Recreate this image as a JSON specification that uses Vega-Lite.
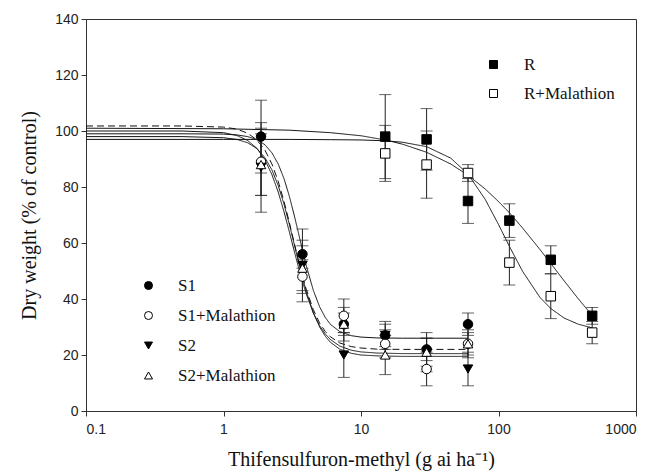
{
  "$schema": "https://vega.github.io/schema/vega-lite/v6.json",
  "width": 550,
  "height": 392,
  "autosize": {"type": "none"},
  "padding": {"left": 86, "top": 19, "right": 18, "bottom": 64},
  "background": "white",
  "config": {
    "view": {"stroke": "#333", "strokeWidth": 1},
    "axis": {
      "domainColor": "#333", "tickColor": "#333", "tickSize": 5, "grid": false,
      "labelFont": "Liberation Sans", "labelFontSize": 14, "labelColor": "#222",
      "titleFont": "Liberation Serif", "titleFontSize": 20, "titleFontWeight": "normal", "titleColor": "#111"
    },
    "legend": {
      "labelFont": "Liberation Serif", "labelFontSize": 17, "labelColor": "#111",
      "symbolStrokeWidth": 1, "symbolSize": 64, "padding": 0
    }
  },
  "datasets": {
    "points": [
      {"group": "S", "series": "S1", "dose": 1.875, "value": 98, "err": 13},
      {"group": "S", "series": "S1", "dose": 3.75, "value": 56, "err": 5},
      {"group": "S", "series": "S1", "dose": 7.5, "value": 31, "err": 4},
      {"group": "S", "series": "S1", "dose": 15, "value": 27, "err": 4},
      {"group": "S", "series": "S1", "dose": 30, "value": 22, "err": 4},
      {"group": "S", "series": "S1", "dose": 60, "value": 31, "err": 4},
      {"group": "S", "series": "S1+Malathion", "dose": 1.875, "value": 89, "err": 12},
      {"group": "S", "series": "S1+Malathion", "dose": 3.75, "value": 48, "err": 6},
      {"group": "S", "series": "S1+Malathion", "dose": 7.5, "value": 34, "err": 6},
      {"group": "S", "series": "S1+Malathion", "dose": 15, "value": 24, "err": 5},
      {"group": "S", "series": "S1+Malathion", "dose": 30, "value": 15, "err": 6},
      {"group": "S", "series": "S1+Malathion", "dose": 60, "value": 24, "err": 5},
      {"group": "S", "series": "S2", "dose": 1.875, "value": 87, "err": 16},
      {"group": "S", "series": "S2", "dose": 3.75, "value": 52, "err": 13},
      {"group": "S", "series": "S2", "dose": 7.5, "value": 20, "err": 8},
      {"group": "S", "series": "S2", "dose": 15, "value": 27, "err": 5},
      {"group": "S", "series": "S2", "dose": 30, "value": 21, "err": 7},
      {"group": "S", "series": "S2", "dose": 60, "value": 15, "err": 6},
      {"group": "S", "series": "S2+Malathion", "dose": 1.875, "value": 88, "err": 11},
      {"group": "S", "series": "S2+Malathion", "dose": 3.75, "value": 51, "err": 8},
      {"group": "S", "series": "S2+Malathion", "dose": 7.5, "value": 31, "err": 6},
      {"group": "S", "series": "S2+Malathion", "dose": 15, "value": 20, "err": 7},
      {"group": "S", "series": "S2+Malathion", "dose": 30, "value": 21, "err": 5},
      {"group": "S", "series": "S2+Malathion", "dose": 60, "value": 24, "err": 4},
      {"group": "R", "series": "R", "dose": 15, "value": 98, "err": 15},
      {"group": "R", "series": "R", "dose": 30, "value": 97, "err": 11},
      {"group": "R", "series": "R", "dose": 60, "value": 75, "err": 8},
      {"group": "R", "series": "R", "dose": 120, "value": 68, "err": 6},
      {"group": "R", "series": "R", "dose": 240, "value": 54, "err": 5},
      {"group": "R", "series": "R", "dose": 480, "value": 34, "err": 3},
      {"group": "R", "series": "R+Malathion", "dose": 15, "value": 92, "err": 10},
      {"group": "R", "series": "R+Malathion", "dose": 30, "value": 88, "err": 12},
      {"group": "R", "series": "R+Malathion", "dose": 60, "value": 85, "err": 3},
      {"group": "R", "series": "R+Malathion", "dose": 120, "value": 53, "err": 8},
      {"group": "R", "series": "R+Malathion", "dose": 240, "value": 41, "err": 8},
      {"group": "R", "series": "R+Malathion", "dose": 480, "value": 28, "err": 4}
    ],
    "curves": [
      {"curve": "S1", "dose": 0.1, "value": 99}, {"curve": "S1", "dose": 0.5, "value": 99}, {"curve": "S1", "dose": 1, "value": 98.9}, {"curve": "S1", "dose": 1.25, "value": 98.6}, {"curve": "S1", "dose": 1.5, "value": 98}, {"curve": "S1", "dose": 1.75, "value": 96.9}, {"curve": "S1", "dose": 2, "value": 95.1}, {"curve": "S1", "dose": 2.25, "value": 92.2}, {"curve": "S1", "dose": 2.5, "value": 88.2}, {"curve": "S1", "dose": 2.75, "value": 83.1}, {"curve": "S1", "dose": 3, "value": 77}, {"curve": "S1", "dose": 3.25, "value": 70.4}, {"curve": "S1", "dose": 3.5, "value": 63.8}, {"curve": "S1", "dose": 3.75, "value": 57.5}, {"curve": "S1", "dose": 4, "value": 51.9}, {"curve": "S1", "dose": 4.5, "value": 43.1}, {"curve": "S1", "dose": 5, "value": 37.2}, {"curve": "S1", "dose": 5.5, "value": 33.4}, {"curve": "S1", "dose": 6, "value": 30.9}, {"curve": "S1", "dose": 7, "value": 28.4}, {"curve": "S1", "dose": 8.5, "value": 26.9}, {"curve": "S1", "dose": 10, "value": 26.4}, {"curve": "S1", "dose": 13, "value": 26.1}, {"curve": "S1", "dose": 20, "value": 26}, {"curve": "S1", "dose": 35, "value": 26}, {"curve": "S1", "dose": 60, "value": 26},
      {"curve": "S1+Malathion", "dose": 0.1, "value": 101.8}, {"curve": "S1+Malathion", "dose": 0.5, "value": 101.8}, {"curve": "S1+Malathion", "dose": 1, "value": 101.4}, {"curve": "S1+Malathion", "dose": 1.25, "value": 100.7}, {"curve": "S1+Malathion", "dose": 1.5, "value": 99.2}, {"curve": "S1+Malathion", "dose": 1.75, "value": 96.8}, {"curve": "S1+Malathion", "dose": 2, "value": 93.2}, {"curve": "S1+Malathion", "dose": 2.25, "value": 88.2}, {"curve": "S1+Malathion", "dose": 2.5, "value": 82}, {"curve": "S1+Malathion", "dose": 2.75, "value": 75}, {"curve": "S1+Malathion", "dose": 3, "value": 67.7}, {"curve": "S1+Malathion", "dose": 3.25, "value": 60.5}, {"curve": "S1+Malathion", "dose": 3.5, "value": 54}, {"curve": "S1+Malathion", "dose": 3.75, "value": 48.2}, {"curve": "S1+Malathion", "dose": 4, "value": 43.4}, {"curve": "S1+Malathion", "dose": 4.5, "value": 36.2}, {"curve": "S1+Malathion", "dose": 5, "value": 31.4}, {"curve": "S1+Malathion", "dose": 5.5, "value": 28.4}, {"curve": "S1+Malathion", "dose": 6, "value": 26.5}, {"curve": "S1+Malathion", "dose": 7, "value": 24.3}, {"curve": "S1+Malathion", "dose": 8.5, "value": 23}, {"curve": "S1+Malathion", "dose": 10, "value": 22.5}, {"curve": "S1+Malathion", "dose": 13, "value": 22.1}, {"curve": "S1+Malathion", "dose": 20, "value": 22}, {"curve": "S1+Malathion", "dose": 35, "value": 22}, {"curve": "S1+Malathion", "dose": 60, "value": 22},
      {"curve": "S2", "dose": 0.1, "value": 98}, {"curve": "S2", "dose": 0.5, "value": 98}, {"curve": "S2", "dose": 1, "value": 97.6}, {"curve": "S2", "dose": 1.25, "value": 97}, {"curve": "S2", "dose": 1.5, "value": 95.8}, {"curve": "S2", "dose": 1.75, "value": 93.7}, {"curve": "S2", "dose": 2, "value": 90.5}, {"curve": "S2", "dose": 2.25, "value": 86.1}, {"curve": "S2", "dose": 2.5, "value": 80.5}, {"curve": "S2", "dose": 2.75, "value": 74}, {"curve": "S2", "dose": 3, "value": 67}, {"curve": "S2", "dose": 3.25, "value": 60.1}, {"curve": "S2", "dose": 3.5, "value": 53.6}, {"curve": "S2", "dose": 3.75, "value": 47.8}, {"curve": "S2", "dose": 4, "value": 42.7}, {"curve": "S2", "dose": 4.5, "value": 35.1}, {"curve": "S2", "dose": 5, "value": 30}, {"curve": "S2", "dose": 5.5, "value": 26.7}, {"curve": "S2", "dose": 6, "value": 24.5}, {"curve": "S2", "dose": 7, "value": 22.1}, {"curve": "S2", "dose": 8.5, "value": 20.6}, {"curve": "S2", "dose": 10, "value": 20}, {"curve": "S2", "dose": 13, "value": 19.7}, {"curve": "S2", "dose": 20, "value": 19.5}, {"curve": "S2", "dose": 35, "value": 19.5}, {"curve": "S2", "dose": 60, "value": 19.5},
      {"curve": "S2+Malathion", "dose": 0.1, "value": 100}, {"curve": "S2+Malathion", "dose": 0.5, "value": 100}, {"curve": "S2+Malathion", "dose": 1, "value": 99.4}, {"curve": "S2+Malathion", "dose": 1.25, "value": 98.4}, {"curve": "S2+Malathion", "dose": 1.5, "value": 96.6}, {"curve": "S2+Malathion", "dose": 1.75, "value": 93.8}, {"curve": "S2+Malathion", "dose": 2, "value": 89.7}, {"curve": "S2+Malathion", "dose": 2.25, "value": 84.4}, {"curve": "S2+Malathion", "dose": 2.5, "value": 78.2}, {"curve": "S2+Malathion", "dose": 2.75, "value": 71.3}, {"curve": "S2+Malathion", "dose": 3, "value": 64.3}, {"curve": "S2+Malathion", "dose": 3.25, "value": 57.6}, {"curve": "S2+Malathion", "dose": 3.5, "value": 51.6}, {"curve": "S2+Malathion", "dose": 3.75, "value": 46.3}, {"curve": "S2+Malathion", "dose": 4, "value": 41.8}, {"curve": "S2+Malathion", "dose": 4.5, "value": 35}, {"curve": "S2+Malathion", "dose": 5, "value": 30.5}, {"curve": "S2+Malathion", "dose": 5.5, "value": 27.5}, {"curve": "S2+Malathion", "dose": 6, "value": 25.5}, {"curve": "S2+Malathion", "dose": 7, "value": 23.2}, {"curve": "S2+Malathion", "dose": 8.5, "value": 21.7}, {"curve": "S2+Malathion", "dose": 10, "value": 21.1}, {"curve": "S2+Malathion", "dose": 13, "value": 20.7}, {"curve": "S2+Malathion", "dose": 20, "value": 20.5}, {"curve": "S2+Malathion", "dose": 35, "value": 20.5}, {"curve": "S2+Malathion", "dose": 60, "value": 20.5},
      {"curve": "R", "dose": 0.1, "value": 101}, {"curve": "R", "dose": 1, "value": 100.8}, {"curve": "R", "dose": 3, "value": 100.3}, {"curve": "R", "dose": 6, "value": 99.4}, {"curve": "R", "dose": 10, "value": 98.3}, {"curve": "R", "dose": 15, "value": 96.8}, {"curve": "R", "dose": 20, "value": 95.3}, {"curve": "R", "dose": 30, "value": 92.4}, {"curve": "R", "dose": 45, "value": 88.2}, {"curve": "R", "dose": 60, "value": 84.2}, {"curve": "R", "dose": 80, "value": 79.3}, {"curve": "R", "dose": 100, "value": 74.8}, {"curve": "R", "dose": 120, "value": 70.8}, {"curve": "R", "dose": 150, "value": 65.3}, {"curve": "R", "dose": 200, "value": 57.7}, {"curve": "R", "dose": 240, "value": 52.7}, {"curve": "R", "dose": 300, "value": 46.5}, {"curve": "R", "dose": 380, "value": 40.1}, {"curve": "R", "dose": 480, "value": 34.1},
      {"curve": "R+Malathion", "dose": 0.1, "value": 97}, {"curve": "R+Malathion", "dose": 1, "value": 97}, {"curve": "R+Malathion", "dose": 3, "value": 97}, {"curve": "R+Malathion", "dose": 6, "value": 96.9}, {"curve": "R+Malathion", "dose": 10, "value": 96.8}, {"curve": "R+Malathion", "dose": 15, "value": 96.5}, {"curve": "R+Malathion", "dose": 20, "value": 96}, {"curve": "R+Malathion", "dose": 30, "value": 94.4}, {"curve": "R+Malathion", "dose": 45, "value": 90.3}, {"curve": "R+Malathion", "dose": 60, "value": 84.6}, {"curve": "R+Malathion", "dose": 80, "value": 75.6}, {"curve": "R+Malathion", "dose": 100, "value": 66.6}, {"curve": "R+Malathion", "dose": 120, "value": 58.8}, {"curve": "R+Malathion", "dose": 150, "value": 49.8}, {"curve": "R+Malathion", "dose": 200, "value": 40.6}, {"curve": "R+Malathion", "dose": 240, "value": 36.6}, {"curve": "R+Malathion", "dose": 300, "value": 33.2}, {"curve": "R+Malathion", "dose": 380, "value": 31}, {"curve": "R+Malathion", "dose": 480, "value": 29.7}
    ]
  },
  "layer": [
    {
      "data": {"name": "curves"},
      "mark": {"type": "line", "color": "#111", "strokeWidth": 1},
      "encoding": {
        "x": {"field": "dose", "type": "quantitative", "title": "Thifensulfuron-methyl (g ai ha⁻¹)", "scale": {"type": "log", "domain": [0.1, 1000], "nice": false},
              "axis": {"values": [0.1, 1, 10, 100, 1000], "format": "~g", "labelPadding": 6, "titlePadding": 13}},
        "y": {"field": "value", "type": "quantitative", "title": "Dry weight (% of control)", "scale": {"domain": [0, 140], "nice": false},
              "axis": {"values": [0, 20, 40, 60, 80, 100, 120, 140], "labelPadding": 3, "titlePadding": 15}},
        "detail": {"field": "curve"},
        "strokeDash": {"field": "curve", "type": "nominal",
          "scale": {"domain": ["S1", "S1+Malathion", "S2", "S2+Malathion", "R", "R+Malathion"], "range": [[1, 0], [7, 4], [1, 0], [1, 0], [1, 0], [1, 0]]},
          "legend": null}
      }
    },
    {
      "data": {"name": "points"},
      "mark": {"type": "errorbar", "ticks": {"size": 12}, "color": "#222", "thickness": 1},
      "encoding": {
        "x": {"field": "dose", "type": "quantitative", "title": "Thifensulfuron-methyl (g ai ha⁻¹)"},
        "y": {"field": "value", "type": "quantitative", "title": "Dry weight (% of control)"},
        "yError": {"field": "err"},
        "detail": {"field": "series"}
      }
    },
    {
      "data": {"name": "points"},
      "transform": [{"filter": "datum.group == 'S'"}],
      "mark": {"type": "point", "filled": true, "strokeWidth": 1, "size": 90, "opacity": 1},
      "encoding": {
        "x": {"field": "dose", "type": "quantitative", "title": "Thifensulfuron-methyl (g ai ha⁻¹)"},
        "y": {"field": "value", "type": "quantitative", "title": "Dry weight (% of control)"},
        "shape": {"field": "series", "type": "nominal",
          "scale": {"domain": ["S1", "S1+Malathion", "S2", "S2+Malathion"], "range": ["circle", "circle", "triangle-down", "triangle-up"]},
          "legend": {"title": null, "orient": "none", "legendX": 54, "legendY": 258, "labelOffset": 21, "rowPadding": 12}},
        "fill": {"field": "series", "type": "nominal",
          "scale": {"domain": ["S1", "S1+Malathion", "S2", "S2+Malathion"], "range": ["black", "white", "black", "white"]},
          "legend": {"title": null, "orient": "none", "legendX": 54, "legendY": 258, "labelOffset": 21, "rowPadding": 12}},
        "stroke": {"field": "series", "type": "nominal",
          "scale": {"domain": ["S1", "S1+Malathion", "S2", "S2+Malathion"], "range": ["black", "black", "black", "black"]},
          "legend": {"title": null, "orient": "none", "legendX": 54, "legendY": 258, "labelOffset": 21, "rowPadding": 12}}
      }
    },
    {
      "data": {"name": "points"},
      "transform": [{"filter": "datum.group == 'R'"}],
      "mark": {"type": "point", "filled": true, "strokeWidth": 1, "size": 90, "opacity": 1},
      "encoding": {
        "x": {"field": "dose", "type": "quantitative", "title": "Thifensulfuron-methyl (g ai ha⁻¹)"},
        "y": {"field": "value", "type": "quantitative", "title": "Dry weight (% of control)"},
        "shape": {"field": "series", "type": "nominal",
          "scale": {"domain": ["R", "R+Malathion"], "range": ["square", "square"]},
          "legend": {"title": null, "orient": "none", "legendX": 399, "legendY": 37, "labelOffset": 22, "rowPadding": 11}},
        "fill": {"field": "series", "type": "nominal",
          "scale": {"domain": ["R", "R+Malathion"], "range": ["black", "white"]},
          "legend": {"title": null, "orient": "none", "legendX": 399, "legendY": 37, "labelOffset": 22, "rowPadding": 11}},
        "stroke": {"field": "series", "type": "nominal",
          "scale": {"domain": ["R", "R+Malathion"], "range": ["black", "black"]},
          "legend": {"title": null, "orient": "none", "legendX": 399, "legendY": 37, "labelOffset": 22, "rowPadding": 11}}
      }
    }
  ],
  "resolve": {"scale": {"shape": "independent", "fill": "independent", "stroke": "independent"}}
}
